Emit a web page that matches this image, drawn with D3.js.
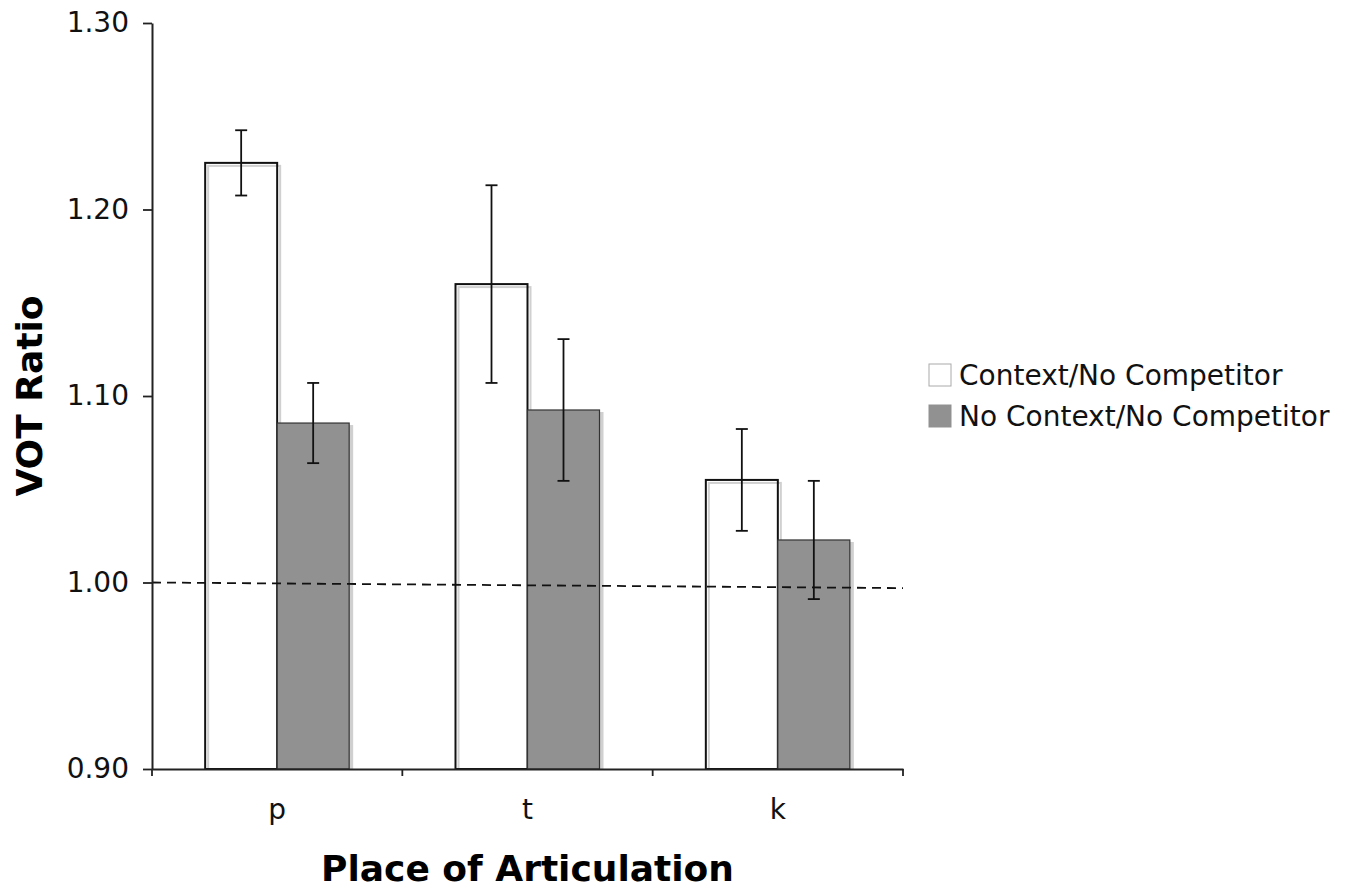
<!DOCTYPE html>
<html>
<head>
<meta charset="utf-8">
<script src="https://cdn.jsdelivr.net/npm/d3@7"></script>
<style>
  body { margin: 0; background: #fff; }
  text { font-family: "DejaVu Sans", Verdana, sans-serif; }
</style>
</head>
<body>
<svg id="chart"></svg>
<script>
const width = 1358, height = 891;
const margin = { top: 23, right: 455, bottom: 122, left: 152 };
const plotWidth = width - margin.left - margin.right;
const plotHeight = height - margin.top - margin.bottom;

// Data
const categories = ["p", "t", "k"];
const seriesNames = ["Context/No Competitor", "No Context/No Competitor"];
const contextValues = [1.225, 1.160, 1.055];
const contextErrors = [0.0175, 0.053, 0.0273];
const noContextValues = [1.0855, 1.0925, 1.0228];
const noContextErrors = [0.0215, 0.038, 0.0317];
const yTicks = [0.90, 1.00, 1.10, 1.20, 1.30];
const baselineEnds = [1.000, 0.997];

const seriesColors = ["none", "#919191"];
const seriesStrokes = ["#111", "#333"];

const svg = d3.select("#chart")
    .attr("width", width)
    .attr("height", height);

const g = svg.append("g")
    .attr("transform", `translate(${margin.left},${margin.top})`);

// Scales
const xScale = d3.scaleBand().domain(categories).range([0, plotWidth]);
const xInner = d3.scaleBand().domain([0, 1]).range([xScale.bandwidth() / 2 - 72, xScale.bandwidth() / 2 + 72]);
const yScale = d3.scaleLinear().domain([0.90, 1.30]).range([plotHeight, 0]);

const series = [
    { values: contextValues, errors: contextErrors },
    { values: noContextValues, errors: noContextErrors }
];

// Bars with a soft drop shadow
series.forEach((s, si) => {
    const grp = g.append("g").attr("class", "series-" + si);
    const data = categories.map((c, i) => ({ cat: c, value: s.values[i], err: s.errors[i] }));

    grp.selectAll("rect.shadow")
        .data(data)
        .enter()
        .append("rect")
        .attr("class", "shadow")
        .attr("x", d => xScale(d.cat) + xInner(si) + 3)
        .attr("y", d => yScale(d.value) + 3)
        .attr("width", xInner.bandwidth())
        .attr("height", d => plotHeight - yScale(d.value) - 3)
        .attr("fill", si === 0 ? "none" : "#d0d0d0")
        .attr("stroke", "#d0d0d0")
        .attr("stroke-width", 2);

    grp.selectAll("rect.bar")
        .data(data)
        .enter()
        .append("rect")
        .attr("class", "bar")
        .attr("x", d => xScale(d.cat) + xInner(si))
        .attr("y", d => yScale(d.value))
        .attr("width", xInner.bandwidth())
        .attr("height", d => plotHeight - yScale(d.value))
        .attr("fill", seriesColors[si])
        .attr("stroke", seriesStrokes[si])
        .attr("stroke-width", si === 0 ? 2 : 1.2);
});

// Dashed reference line at 1.00
g.append("line")
    .attr("x1", 0)
    .attr("x2", plotWidth)
    .attr("y1", yScale(baselineEnds[0]))
    .attr("y2", yScale(baselineEnds[1]))
    .attr("stroke", "#111")
    .attr("stroke-width", 1.8)
    .attr("stroke-dasharray", "9,6");

// Error bars
series.forEach((s, si) => {
    const grp = g.append("g").attr("class", "errors-" + si);
    categories.forEach((c, i) => {
        const cx = xScale(c) + xInner(si) + xInner.bandwidth() / 2;
        const hi = yScale(s.values[i] + s.errors[i]);
        const lo = yScale(s.values[i] - s.errors[i]);
        grp.append("line")
            .attr("x1", cx).attr("x2", cx)
            .attr("y1", hi).attr("y2", lo)
            .attr("stroke", "#111").attr("stroke-width", 1.8);
        [hi, lo].forEach(y => {
            grp.append("line")
                .attr("x1", cx - 6).attr("x2", cx + 6)
                .attr("y1", y).attr("y2", y)
                .attr("stroke", "#111").attr("stroke-width", 1.8);
        });
    });
});

// Axes
const xAxis = g.append("g")
    .attr("transform", `translate(0,${plotHeight})`)
    .call(d3.axisBottom(xScale).tickSize(0).tickPadding(30));
xAxis.select(".domain").attr("stroke", "#222").attr("stroke-width", 2);
xAxis.selectAll("text").attr("font-size", 28).attr("fill", "#111");

// Category boundary ticks
g.append("g")
    .selectAll("line")
    .data([0].concat(categories.map(c => xScale(c) + xScale.bandwidth())))
    .enter()
    .append("line")
    .attr("x1", d => d).attr("x2", d => d)
    .attr("y1", plotHeight).attr("y2", plotHeight + 7)
    .attr("stroke", "#222").attr("stroke-width", 1.8);

const yAxis = g.append("g")
    .call(d3.axisLeft(yScale).tickValues(yTicks).tickFormat(d3.format(".2f")).tickSize(9).tickSizeOuter(0).tickPadding(14));
yAxis.select(".domain").attr("stroke", "#222").attr("stroke-width", 2);
yAxis.selectAll(".tick line").attr("stroke", "#222").attr("stroke-width", 1.8);
yAxis.selectAll("text").attr("font-size", 28).attr("fill", "#111");

// Axis titles
svg.append("text")
    .attr("x", margin.left + plotWidth / 2)
    .attr("y", 881)
    .attr("text-anchor", "middle")
    .attr("font-size", 36)
    .attr("font-weight", "bold")
    .text("Place of Articulation");

svg.append("text")
    .attr("transform", `translate(42,${margin.top + yScale(1.10)}) rotate(-90)`)
    .attr("text-anchor", "middle")
    .attr("font-size", 36)
    .attr("font-weight", "bold")
    .text("VOT Ratio");

// Legend
const legend = svg.append("g").attr("transform", "translate(929,364)");
seriesNames.forEach((name, i) => {
    const row = legend.append("g").attr("transform", `translate(0,${i * 41})`);
    row.append("rect")
        .attr("width", 22).attr("height", 22)
        .attr("fill", i === 0 ? "#ffffff" : seriesColors[i])
        .attr("stroke", i === 0 ? "#aaa" : "#919191")
        .attr("stroke-width", 1);
    row.append("text")
        .attr("x", 30).attr("y", 21)
        .attr("font-size", 28)
        .attr("fill", "#111")
        .text(name);
});
</script>
</body>
</html>
